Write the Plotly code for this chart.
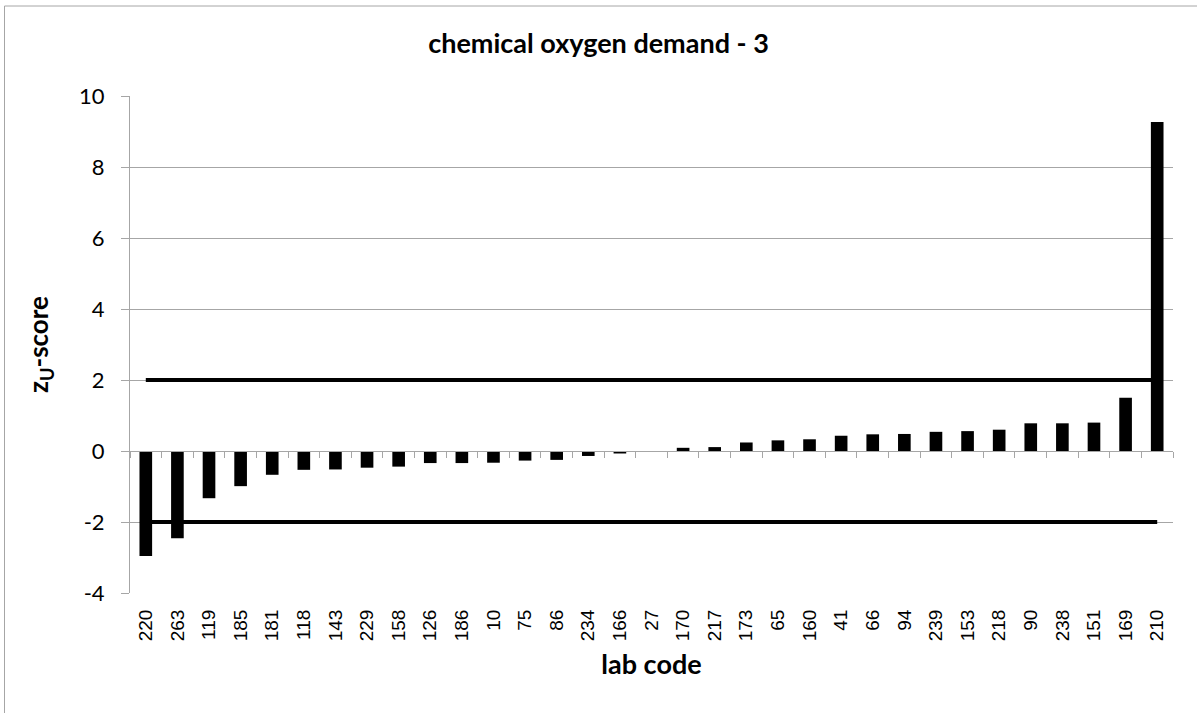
import plotly.graph_objects as go

# Laboratory codes, ordered by score
lab_codes = ["220", "263", "119", "185", "181", "118", "143", "229", "158", "126",
             "186", "10", "75", "86", "234", "166", "27", "170", "217", "173",
             "65", "160", "41", "66", "94", "239", "153", "218", "90", "238",
             "151", "169", "210"]

# zU-scores for chemical oxygen demand, sample 3
zu_scores = [-2.96, -2.46, -1.33, -0.99, -0.67, -0.53, -0.52, -0.47, -0.44, -0.34,
             -0.34, -0.33, -0.27, -0.25, -0.14, -0.07, 0.0, 0.09, 0.11, 0.24,
             0.30, 0.33, 0.43, 0.47, 0.48, 0.54, 0.56, 0.60, 0.78, 0.78,
             0.80, 1.50, 9.27]

# Acceptance limits
upper_limit = 2
lower_limit = -2

y_ticks = [-4, -2, 0, 2, 4, 6, 8, 10]
y_tick_labels = ["-4", "-2", "0", "2", "4", "6", "8", "10"]

W, H = 1197, 713
L, R, T, B = 130, 24, 96, 120
GRID = "#a6a6a6"


def px_x(px):
    return (px - L) / (W - L - R)


def px_y(py):
    return (H - B - py) / (H - T - B)


fig = go.Figure()

fig.add_trace(go.Bar(
    x=lab_codes, y=zu_scores,
    marker=dict(color="black", line=dict(width=0)),
    width=0.4, showlegend=False,
))

for limit in (upper_limit, lower_limit):
    fig.add_trace(go.Scatter(
        x=lab_codes, y=[limit] * len(lab_codes),
        mode="lines", line=dict(color="black", width=4),
        showlegend=False, hoverinfo="skip",
    ))

# category axis drawn along y = 0 with tick marks between categories
fig.add_trace(go.Scatter(
    x=lab_codes, y=[0] * len(lab_codes), xaxis="x2",
    mode="lines", line=dict(width=0), showlegend=False, hoverinfo="skip",
))

fig.update_layout(
    width=W, height=H,
    margin=dict(l=L, r=R, t=T, b=B),
    paper_bgcolor="white", plot_bgcolor="white",
    title=dict(
        text="<b>chemical oxygen demand - 3</b>",
        x=0.5, xref="container", xanchor="center",
        y=1 - 44 / H, yref="container", yanchor="middle",
        font=dict(family="Lato", size=27, color="black"),
    ),
    xaxis=dict(
        type="category", categoryorder="array", categoryarray=lab_codes,
        range=[-0.5, len(lab_codes) - 0.5],
        tickangle=-90,
        tickfont=dict(family="Liberation Sans", size=19, color="black"),
        ticks="outside", ticklen=8, tickcolor="rgba(0,0,0,0)",
        showgrid=False, showline=False, zeroline=False,
        title=dict(text="<b>lab code</b>", standoff=14,
                   font=dict(family="Lato", size=27, color="black")),
    ),
    xaxis2=dict(
        type="category", categoryorder="array", categoryarray=lab_codes,
        range=[-0.5, len(lab_codes) - 0.5],
        overlaying="x", anchor="free", side="bottom",
        position=(0 - y_ticks[0]) / (y_ticks[-1] - y_ticks[0]),
        showline=True, linecolor=GRID, linewidth=1,
        ticks="outside", ticklen=6, tickcolor=GRID, tickwidth=1,
        tickson="boundaries", showticklabels=False, showgrid=False,
    ),
    yaxis=dict(
        range=[y_ticks[0], y_ticks[-1]],
        tickvals=y_ticks, ticktext=y_tick_labels,
        tickfont=dict(family="Lato", size=22, color="black"),
        ticklabelstandoff=12,
        showgrid=True, gridcolor=GRID, gridwidth=1,
        showline=True, linecolor=GRID, linewidth=1,
        ticks="outside", ticklen=8, tickcolor=GRID,
        zeroline=False,
        title=dict(text="<b>z<sub>U</sub>-score</b>", standoff=22,
                   font=dict(family="Lato", size=26, color="black")),
    ),
    shapes=[
        dict(type="line", xref="paper", yref="paper",
             x0=px_x(4.5), x1=px_x(4.5), y0=px_y(6), y1=px_y(H + 5),
             line=dict(color=GRID, width=1)),
        dict(type="line", xref="paper", yref="paper",
             x0=px_x(4.5), x1=px_x(W + 5), y0=px_y(6), y1=px_y(6),
             line=dict(color=GRID, width=1)),
    ],
    bargap=0.6,
)

fig.write_html("out.html")
